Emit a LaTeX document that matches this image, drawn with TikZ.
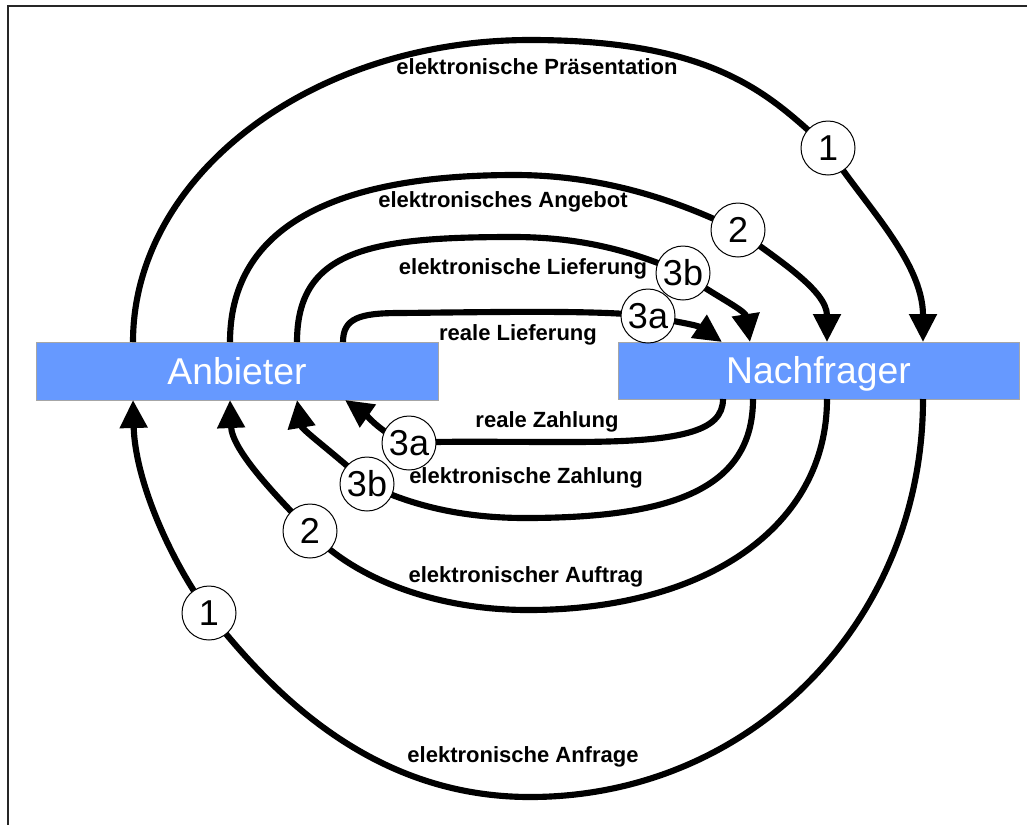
\documentclass[tikz,border=0pt]{standalone}
\usepackage{fontspec}
\setmainfont{Liberation Sans}
\usetikzlibrary{arrows.meta}
\definecolor{boxblue}{HTML}{6699FF}
\begin{document}
\begin{tikzpicture}[x=0.75pt,y=-0.75pt,
  party/.style={fill=boxblue, draw=black!35, line width=0.6pt, inner sep=0pt, outer sep=0pt,
    text=white, font=\fontsize{28}{30}\selectfont, text height=20pt, text depth=0pt},
  flow/.style={line width=4.6pt, -{Triangle[length=21pt,width=20pt]}},
  stepno/.style={circle, fill=white, draw=black, line width=0.75pt, inner sep=0pt,
    minimum size=40.5pt, font=\fontsize{27}{29}\selectfont},
  lbl/.style={font=\fontsize{16.5}{18}\selectfont\bfseries, anchor=base, inner sep=0pt},
]
\useasboundingbox (0,0) rectangle (1027,825);
% frame edges
\draw[black!85, line width=1.5pt] (1027,5.5) -- (7.5,5.5) -- (7.5,825);

% the two parties
\node[party, minimum width=301.5pt, minimum height=43.5pt] (anb) at (237,371) {Anbieter};
\node[party, minimum width=300.75pt, minimum height=42.75pt] (nach) at (818.5,370.5) {Nachfrager};

% docking points on the boxes
\coordinate (A1t) at (133,0 |- anb.north);
\coordinate (A2t) at (230,0 |- anb.north);
\coordinate (A3bt) at (297,0 |- anb.north);
\coordinate (A3at) at (343,0 |- anb.north);
\coordinate (A1b) at (133,0 |- anb.south);
\coordinate (A2b) at (230,0 |- anb.south);
\coordinate (A3bb) at (297,0 |- anb.south);
\coordinate (A3ab) at (345,0 |- anb.south);
\coordinate (N1t) at (923,0 |- nach.north);
\coordinate (N2t) at (827,0 |- nach.north);
\coordinate (N3bt) at (750,0 |- nach.north);
\coordinate (N3at) at (722,0 |- nach.north);
\coordinate (N1b) at (923,0 |- nach.south);
\coordinate (N2b) at (827,0 |- nach.south);
\coordinate (N3bb) at (753,0 |- nach.south);
\coordinate (N3ab) at (723,0 |- nach.south);

% step markers
\coordinate (p1t) at (828,148);
\coordinate (p2t) at (738,230);
\coordinate (p3bt) at (683,273);
\coordinate (p3at) at (648,316);
\coordinate (p1b) at (209,613);
\coordinate (p2b) at (310,531);
\coordinate (p3bb) at (367,484);
\coordinate (p3ab) at (409,443);

% upper arcs: Anbieter -> Nachfrager
\draw[flow] (A1t) .. controls (133,176) and (311,40) .. (530,40)
  .. controls (720,40) and (772,98) .. (p1t)
  .. controls (860,200) and (923,260) .. (N1t);
\draw[flow] (A2t) .. controls (230,235) and (320,175) .. (515,175)
  .. controls (620,175) and (700,212) .. (p2t)
  .. controls (775,258) and (827,290) .. (N2t);
\draw[flow] (A3bt) .. controls (297,250) and (370,237) .. (513,237)
  .. controls (590,237) and (640,255) .. (p3bt)
  .. controls (710,293) and (745,310) .. (N3bt);
\draw[flow] (A3at) .. controls (343,318) and (360,313) .. (400,313)
  .. controls (500,312) and (600,310) .. (p3at)
  .. controls (672,321) and (697,325) .. (N3at);

% lower arcs: Nachfrager -> Anbieter
\draw[flow] (N1b) .. controls (923,622) and (750,797) .. (530,797)
  .. controls (370,797) and (270,690) .. (p1b)
  .. controls (170,560) and (135,480) .. (A1b);
\draw[flow] (N2b) .. controls (827,526) and (707,610) .. (528,610)
  .. controls (430,610) and (350,575) .. (p2b)
  .. controls (275,495) and (232,450) .. (A2b);
\draw[flow] (N3bb) .. controls (753,490) and (670,518) .. (525,518)
  .. controls (450,518) and (400,500) .. (p3bb)
  .. controls (345,462) and (302,430) .. (A3bb);
\draw[flow] (N3ab) .. controls (723,432) and (680,442) .. (570,442)
  .. controls (490,442) and (440,441) .. (p3ab)
  .. controls (385,437) and (365,414) .. (A3ab);

\node[stepno] (n1t) at (p1t) {1};
\node[stepno] (n2t) at (p2t) {2};
\node[stepno] (n3bt) at (p3bt) {3b};
\node[stepno] (n3at) at (p3at) {3a};
\node[stepno] (n1b) at (p1b) {1};
\node[stepno] (n2b) at (p2b) {2};
\node[stepno] (n3bb) at (p3bb) {3b};
\node[stepno] (n3ab) at (p3ab) {3a};

% flow labels
\node[lbl] (l1t) at (537,74) {elektronische Präsentation};
\node[lbl] (l2t) at (503,207) {elektronisches Angebot};
\node[lbl] (l3bt) at (523,274) {elektronische Lieferung};
\node[lbl] (l3at) at (518,340) {reale Lieferung};
\node[lbl] (l3ab) at (547,427) {reale Zahlung};
\node[lbl] (l3bb) at (526,483) {elektronische Zahlung};
\node[lbl] (l2b) at (526,582) {elektronischer Auftrag};
\node[lbl] (l1b) at (523,762) {elektronische Anfrage};
\end{tikzpicture}
\end{document}
